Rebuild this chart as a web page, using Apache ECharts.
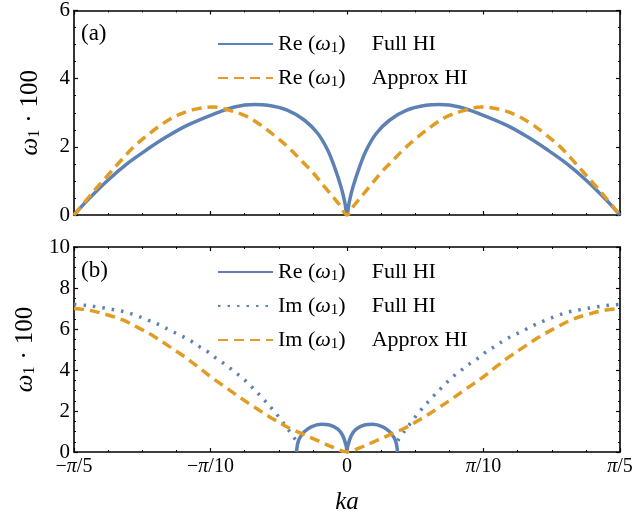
<!DOCTYPE html>
<html>
<head>
<meta charset="utf-8">
<script src="https://cdn.jsdelivr.net/npm/echarts@6/dist/echarts.min.js"></script>
<style>
html,body{margin:0;padding:0;background:#fff;}
#c{width:636px;height:521px;}
</style>
</head>
<body>
<div id="c"></div>
<script>
// x values are ka/π
const kaTopFull = [-0.2, -0.1905, -0.1758, -0.1612, -0.1465, -0.1319, -0.1172, -0.0971, -0.0824, -0.0678, -0.058, -0.0434, -0.0311, -0.0214, -0.0141, -0.0092, -0.0042, -0.0015, 0, 0.0015, 0.0042, 0.0092, 0.0141, 0.0214, 0.0311, 0.0434, 0.058, 0.0678, 0.0824, 0.0971, 0.1172, 0.1319, 0.1465, 0.1612, 0.1758, 0.1905, 0.2];
const reTopFull = [0, 0.42, 1.0, 1.5, 1.92, 2.3, 2.63, 2.97, 3.17, 3.24, 3.22, 3.07, 2.78, 2.39, 1.9, 1.41, 0.8, 0.35, 0, 0.35, 0.8, 1.41, 1.9, 2.39, 2.78, 3.07, 3.22, 3.24, 3.17, 2.97, 2.63, 2.3, 1.92, 1.5, 1.0, 0.42, 0];

const kaTopApprox = [-0.2, -0.1899, -0.1815, -0.1729, -0.1642, -0.1557, -0.1447, -0.1349, -0.124, -0.1117, -0.0983, -0.0861, -0.0738, -0.0629, -0.0519, -0.0421, -0.0336, -0.0251, -0.0165, -0.0055, 0, 0.0055, 0.0165, 0.0251, 0.0336, 0.0421, 0.0519, 0.0629, 0.0738, 0.0861, 0.0983, 0.1117, 0.124, 0.1349, 0.1447, 0.1557, 0.1642, 0.1729, 0.1815, 0.1899, 0.2];
const reTopApprox = [0, 0.49, 0.88, 1.27, 1.66, 2.02, 2.39, 2.68, 2.93, 3.1, 3.17, 3.07, 2.9, 2.63, 2.29, 1.95, 1.6, 1.25, 0.83, 0.3, 0, 0.3, 0.83, 1.25, 1.6, 1.95, 2.29, 2.63, 2.9, 3.07, 3.17, 3.1, 2.93, 2.68, 2.39, 2.02, 1.66, 1.27, 0.88, 0.49, 0];

const kaBotRe = [-0.037, -0.0362, -0.0348, -0.0311, -0.0262, -0.0189, -0.0128, -0.0067, -0.0031, -0.0006, 0, 0.0006, 0.0031, 0.0067, 0.0128, 0.0189, 0.0262, 0.0311, 0.0348, 0.0362, 0.037];
const reBotFull = [0, 0.4, 0.67, 1.0, 1.23, 1.35, 1.32, 1.12, 0.8, 0.3, 0, 0.3, 0.8, 1.12, 1.32, 1.35, 1.23, 1.0, 0.67, 0.4, 0];

const kaBotImFullLeft = [-0.2, -0.1923, -0.1801, -0.1716, -0.163, -0.1544, -0.1459, -0.1374, -0.13, -0.1227, -0.1154, -0.1081, -0.102, -0.0958, -0.0885, -0.0824, -0.0763, -0.0702, -0.0629, -0.0531, -0.047, -0.042, -0.0372];
const imBotFullLeft = [7.2, 7.16, 7.05, 6.95, 6.84, 6.66, 6.44, 6.2, 5.95, 5.71, 5.46, 5.14, 4.89, 4.57, 4.24, 3.92, 3.59, 3.2, 2.7, 1.97, 1.45, 1.0, 0.55];
const kaBotImFullRight = [0.0372, 0.042, 0.047, 0.0531, 0.0629, 0.0702, 0.0763, 0.0824, 0.0885, 0.0958, 0.102, 0.1081, 0.1154, 0.1227, 0.13, 0.1374, 0.1459, 0.1544, 0.163, 0.1716, 0.1801, 0.1923, 0.2];
const imBotFullRight = [0.55, 1.0, 1.45, 1.97, 2.7, 3.2, 3.59, 3.92, 4.24, 4.57, 4.89, 5.14, 5.46, 5.71, 5.95, 6.2, 6.44, 6.66, 6.84, 6.95, 7.05, 7.16, 7.2];

const kaBotImApprox = [-0.2, -0.1899, -0.1764, -0.1642, -0.152, -0.141, -0.13, -0.119, -0.1093, -0.0983, -0.0873, -0.0775, -0.0665, -0.0544, -0.0421, -0.0336, -0.0214, -0.0092, 0, 0.0092, 0.0214, 0.0336, 0.0421, 0.0544, 0.0665, 0.0775, 0.0873, 0.0983, 0.1093, 0.119, 0.13, 0.141, 0.152, 0.1642, 0.1764, 0.1899, 0.2];
const imBotApprox = [7.0, 6.93, 6.71, 6.44, 6.03, 5.62, 5.14, 4.65, 4.16, 3.59, 3.08, 2.62, 2.13, 1.62, 1.16, 0.91, 0.55, 0.2, 0, 0.2, 0.55, 0.91, 1.16, 1.62, 2.13, 2.62, 3.08, 3.59, 4.16, 4.65, 5.14, 5.62, 6.03, 6.44, 6.71, 6.93, 7.0];

const xTickValues = [-0.2, -0.1, 0, 0.1, 0.2];
const xTickLabels = ['−π/5', '−π/10', '0', 'π/10', 'π/5'];

const nameTopFull = 'Re (ω1) Full HI (a)';
const nameTopApprox = 'Re (ω1) Approx HI (a)';
const nameBotRe = 'Re (ω1) Full HI (b)';
const nameBotImFull = 'Im (ω1) Full HI (b)';
const nameBotImApprox = 'Im (ω1) Approx HI (b)';
const legendText = {};
legendText[nameTopFull] = ['Re', 'Full HI'];
legendText[nameTopApprox] = ['Re', 'Approx HI'];
legendText[nameBotRe] = ['Re', 'Full HI'];
legendText[nameBotImFull] = ['Im', 'Full HI'];
legendText[nameBotImApprox] = ['Im', 'Approx HI'];

const BLUE = '#5E81B5', ORANGE = '#E19C24';
const SERIF = "'Liberation Serif', 'DejaVu Serif', serif";

function zip(xs, ys) { return xs.map((x, i) => [x, ys[i]]); }

const richBase = {
  n: {fontFamily: SERIF, fontSize: 20, color: '#000'},
  p: {fontFamily: SERIF, fontSize: 20, color: '#000', fontStyle: 'italic'}
};

function xLabel(v) {
  const i = xTickValues.findIndex(t => Math.abs(t - v) < 1e-6);
  if (i < 0) return '';
  return xTickLabels[i].split('').map(ch => ch === 'π' ? '{p|π}' : '{n|' + ch + '}').join('');
}

function mkX(grid, pos, labels) {
  return {
    type: 'value', gridIndex: grid, position: pos, min: -0.2, max: 0.2, interval: 0.1,
    axisLine: {show: true, onZero: false, lineStyle: {color: '#000', width: 1.6}},
    axisTick: {show: true, inside: true, length: 4, lineStyle: {color: '#000', width: 1.2}},
    minorTick: {show: true, splitNumber: 4, length: 2, lineStyle: {color: '#000', width: 1}},
    splitLine: {show: false}, minorSplitLine: {show: false},
    axisLabel: {show: labels, margin: 5, formatter: xLabel, rich: richBase},
    name: labels ? 'ka' : '', nameLocation: 'middle', nameGap: 38,
    nameTextStyle: {fontFamily: SERIF, fontSize: 25, fontStyle: 'italic', color: '#000'}
  };
}
function mkY(grid, pos, max, labels) {
  return {
    type: 'value', gridIndex: grid, position: pos, min: 0, max: max, interval: 2,
    axisLine: {show: true, onZero: false, lineStyle: {color: '#000', width: 1.6}},
    axisTick: {show: true, inside: true, length: 4, lineStyle: {color: '#000', width: 1.2}},
    minorTick: {show: true, splitNumber: 4, length: 2, lineStyle: {color: '#000', width: 1}},
    splitLine: {show: false}, minorSplitLine: {show: false},
    axisLabel: {show: labels, margin: 4, fontFamily: SERIF, fontSize: 21, color: '#000'},
    name: labels ? '{w|ω}{s|1}{d|·}{n|100}' : '', nameLocation: 'middle', nameGap: 31, nameRotate: 90,
    nameTextStyle: {
      rich: {
        w: {fontFamily: SERIF, fontSize: 25, fontStyle: 'italic', color: '#000'},
        s: {fontFamily: SERIF, fontSize: 16, color: '#000', padding: [10, 0, 0, 0]},
        d: {fontFamily: SERIF, fontSize: 25, color: '#000', padding: [0, 7, 0, 7]},
        n: {fontFamily: SERIF, fontSize: 25, color: '#000'}
      }
    }
  };
}

const legendRich = {
  a: {fontFamily: SERIF, fontSize: 22, color: '#000', width: 30},
  n: {fontFamily: SERIF, fontSize: 22, color: '#000'},
  w: {fontFamily: SERIF, fontSize: 22, color: '#000', fontStyle: 'italic'},
  s: {fontFamily: SERIF, fontSize: 15, color: '#000', padding: [9, 0, 0, 0]},
  g: {fontFamily: SERIF, fontSize: 22, color: '#000', padding: [0, 0, 0, 26]}
};
function legendFmt(name) {
  const t = legendText[name];
  return '{a|' + t[0] + '}{n|(}{w|ω}{s|1}{n|)}{g|' + t[1] + '}';
}
function mkLegend(top, names) {
  return {
    data: names, orient: 'vertical', left: 217, top: top, padding: 0,
    itemWidth: 55, itemHeight: 24, itemGap: 11, selectedMode: false,
    itemStyle: {opacity: 0},
    formatter: legendFmt, textStyle: {rich: legendRich}
  };
}

function line(name, xi, data, color, type, width) {
  return {
    name: name, type: 'line', xAxisIndex: xi, yAxisIndex: xi, data: data,
    symbol: 'none', smooth: 0.35, connectNulls: false,
    lineStyle: {color: color, width: width, type: type, cap: 'butt'},
    itemStyle: {color: color}
  };
}

const imFullData = zip(kaBotImFullLeft, imBotFullLeft).concat([[0, '-']]).concat(zip(kaBotImFullRight, imBotFullRight));

const chart = echarts.init(document.getElementById('c'), null, {renderer: 'canvas'});
chart.setOption({
  animation: false,
  backgroundColor: '#fff',
  title: [
    {text: '(a)', left: 81, top: 22, padding: 0, textStyle: {fontFamily: SERIF, fontSize: 23, fontWeight: 'normal', color: '#000'}},
    {text: '(b)', left: 81, top: 259, padding: 0, textStyle: {fontFamily: SERIF, fontSize: 23, fontWeight: 'normal', color: '#000'}}
  ],
  grid: [
    {left: 74, right: 16, top: 10, height: 205},
    {left: 74, right: 16, top: 247, height: 205}
  ],
  xAxis: [mkX(0, 'bottom', false), mkX(0, 'top', false), mkX(1, 'bottom', true), mkX(1, 'top', false)],
  yAxis: [mkY(0, 'left', 6, true), mkY(0, 'right', 6, false), mkY(1, 'left', 10, true), mkY(1, 'right', 10, false)],
  legend: [
    mkLegend(33, [nameTopFull, nameTopApprox]),
    mkLegend(261, [nameBotRe, nameBotImFull, nameBotImApprox])
  ],
  series: [
    line(nameTopFull, 0, zip(kaTopFull, reTopFull), BLUE, 'solid', 3.5),
    line(nameTopApprox, 0, zip(kaTopApprox, reTopApprox), ORANGE, [10, 6], 3.5),
    line(nameBotRe, 2, zip(kaBotRe, reBotFull), BLUE, 'solid', 3.5),
    line(nameBotImFull, 2, imFullData, BLUE, [2.5, 7], 3.5),
    line(nameBotImApprox, 2, zip(kaBotImApprox, imBotApprox), ORANGE, [10, 6], 3.5)
  ]
});
</script>
</body>
</html>
